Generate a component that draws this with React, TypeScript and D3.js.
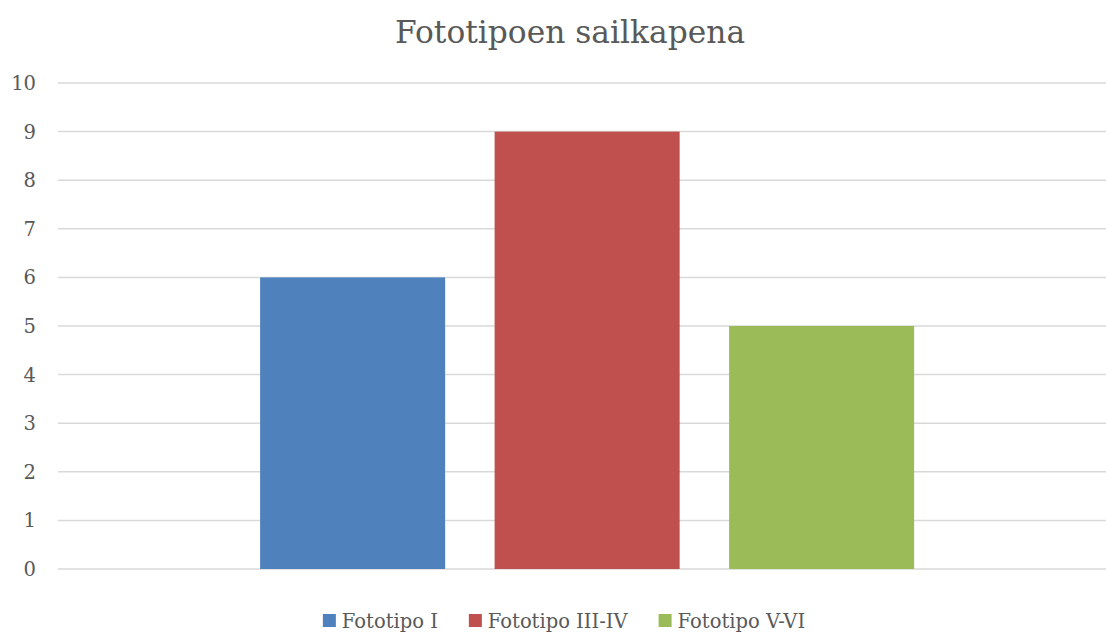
import React, { useEffect, useRef } from "react";
import * as d3 from "d3";

const title = "Fototipoen sailkapena";
const seriesNames = ["Fototipo I", "Fototipo III-IV", "Fototipo V-VI"];
const seriesValues = [6, 9, 5];
const seriesColors = ["#4f81bd", "#c0504d", "#9bbb59"];
const yTicks = [0, 1, 2, 3, 4, 5, 6, 7, 8, 9, 10];

const W = 1106;
const H = 633;
const FONT = "'DejaVu Serif', serif";

export default function App() {
  const ref = useRef<SVGSVGElement>(null);

  useEffect(() => {
    const svg = d3.select(ref.current);
    svg.selectAll("*").remove();

    const plotLeft = 58;
    const plotRight = 1106;
    const plotTop = 83;
    const plotBottom = 569;

    const y = d3.scaleLinear().domain([0, 10]).range([plotBottom, plotTop]);
    const x = d3
      .scaleBand<string>()
      .domain(seriesNames)
      .range([plotLeft, plotRight])
      .paddingInner(0.211)
      .paddingOuter(0.84)
      .align(0.513);

    svg
      .append("text")
      .attr("x", 570)
      .attr("y", 43)
      .attr("text-anchor", "middle")
      .attr("font-family", FONT)
      .attr("font-size", 31.3)
      .attr("fill", "#595959")
      .text(title);

    const g = svg.append("g");
    g.selectAll("line.grid")
      .data(yTicks)
      .join("line")
      .attr("class", "grid")
      .attr("x1", plotLeft)
      .attr("x2", plotRight)
      .attr("y1", (d) => y(d))
      .attr("y2", (d) => y(d))
      .attr("stroke", "#d9d9d9")
      .attr("stroke-width", 1.5);

    g.selectAll("text.tick")
      .data(yTicks)
      .join("text")
      .attr("class", "tick")
      .attr("x", 36)
      .attr("y", (d) => y(d) + 7)
      .attr("text-anchor", "end")
      .attr("font-family", FONT)
      .attr("font-size", 19.5)
      .attr("fill", "#595959")
      .text((d) => String(d));

    g.selectAll("rect.bar")
      .data(seriesNames)
      .join("rect")
      .attr("class", "bar")
      .attr("x", (d) => x(d)!)
      .attr("width", x.bandwidth())
      .attr("y", (d, i) => y(seriesValues[i]))
      .attr("height", (d, i) => y(0) - y(seriesValues[i]))
      .attr("fill", (d, i) => seriesColors[i]);

    // legend
    const legend = svg.append("g");
    const items = legend
      .selectAll("g.item")
      .data(seriesNames)
      .join("g")
      .attr("class", "item");
    items
      .append("rect")
      .attr("width", 13)
      .attr("height", 13)
      .attr("y", 614)
      .attr("fill", (d, i) => seriesColors[i]);
    const texts = items
      .append("text")
      .attr("x", 19)
      .attr("y", 627.5)
      .attr("font-family", FONT)
      .attr("font-size", 19.5)
      .attr("fill", "#595959")
      .text((d) => d);
    const widths: number[] = [];
    texts.each(function () {
      widths.push((this as SVGTextElement).getComputedTextLength());
    });
    const gap = 31;
    const itemWidths = widths.map((w) => 19 + w);
    const total = d3.sum(itemWidths) + gap * (itemWidths.length - 1);
    let cx = 564 - total / 2;
    items.attr("transform", (d, i) => {
      const t = `translate(${cx},0)`;
      cx += itemWidths[i] + gap;
      return t;
    });
  }, []);

  return (
    <svg ref={ref} width={W} height={H} style={{ display: "block", position: "absolute", left: 0, top: 0 }} />
  );
}
